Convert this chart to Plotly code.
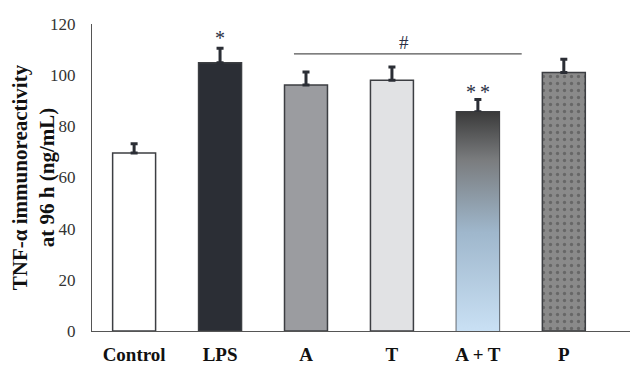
import plotly.graph_objects as go

categories = ["Control", "LPS", "A", "T", "A + T", "P"]
values = [69.6, 104.9, 96.2, 98.0, 85.7, 101.0]
errors = [3.6, 5.6, 5.0, 5.2, 4.8, 5.2]
fills = ["#ffffff", "#2b2e35", "#9b9ca0", "#e1e2e4", "rgba(0,0,0,0)", "#8a8a8a"]

sig_labels = ["*", "#", "*\u2009*"]
sig_x = [1, 3.14, 4]
sig_y = [114.5, 112.9, 93.3]
sig_size = [20, 19, 20]
bracket_x = [1.86, 4.51]
bracket_y = 108.3

y_ticks = [0, 20, 40, 60, 80, 100, 120]

fig = go.Figure()

idx = list(range(len(categories)))
bw = 0.5

# gradient bar for A + T
gi = categories.index("A + T")
fig.add_trace(go.Scatter(
    x=[gi - bw / 2, gi + bw / 2, gi + bw / 2, gi - bw / 2, gi - bw / 2],
    y=[0, 0, values[gi], values[gi], 0],
    mode="lines", fill="toself", line=dict(width=0),
    fillgradient=dict(type="vertical",
                      colorscale=[[0, "#c9e0f4"], [0.45, "#9fb7cc"], [0.78, "#7a7c7e"], [1, "#3a3a3a"]]),
    hoverinfo="skip", showlegend=False,
))

fig.add_trace(go.Bar(
    x=idx, y=values, width=bw,
    marker=dict(color=fills, line=dict(color="#3c3e42", width=1.5), pattern=dict(
        shape=["", "", "", "", "", "."], fgcolor="#ffffff", bgcolor="#858585", size=7, solidity=0.18)),
    error_y=dict(type="data", array=errors, arrayminus=[0] * len(errors), symmetric=False,
                 color="#2b2e35", thickness=3, width=3.5),
    showlegend=False,
))

fig.add_shape(type="line", x0=bracket_x[0], x1=bracket_x[1], y0=bracket_y, y1=bracket_y,
              line=dict(color="#555555", width=1.2), xref="x", yref="y")

for t, x, y, s in zip(sig_labels, sig_x, sig_y, sig_size):
    fig.add_annotation(x=x, y=y, text=t, showarrow=False,
                       font=dict(family="Liberation Serif", size=s, color="#2a2f45"))

fig.update_layout(
    width=630, height=358,
    margin=dict(l=84, r=8, t=16, b=35),
    paper_bgcolor="white", plot_bgcolor="white",
    bargap=0.5,
    xaxis=dict(range=[-0.49, 5.77], tickmode="array", tickvals=idx, ticktext=categories,
               showline=True, linecolor="#555555", linewidth=1.2, ticks="", showgrid=False,
               zeroline=False, ticklabelstandoff=6, automargin=False,
               tickfont=dict(family="Liberation Serif", size=19, color="#111111", weight="bold")),
    yaxis=dict(range=[0, 120], tickmode="array", tickvals=y_ticks, showline=True,
               linecolor="#555555", linewidth=1.2, ticks="", showgrid=False, zeroline=False,
               ticklabelstandoff=12, automargin=False,
               tickfont=dict(family="Liberation Serif", size=17, color="#333333"),
               title=dict(text="TNF-α immunoreactivity<br>at 96 h (ng/mL)", standoff=2,
                          font=dict(family="Liberation Serif", size=21, color="#111111", weight="bold"))),
)

fig.write_html("out.html")
